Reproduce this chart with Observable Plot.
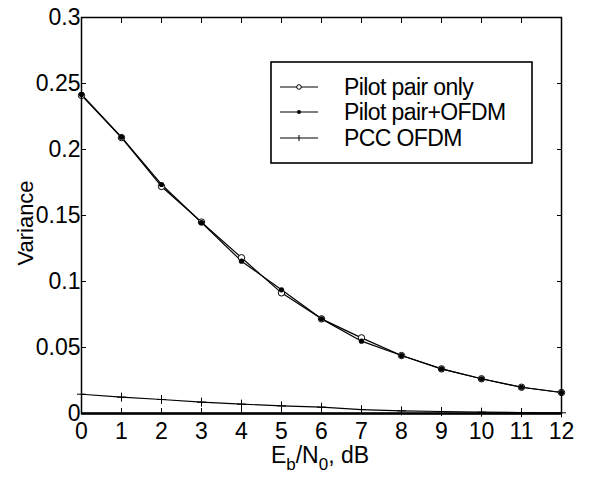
<!DOCTYPE html>
<html><head><meta charset="utf-8">
<script src="https://cdn.jsdelivr.net/npm/d3@7"></script>
<script src="https://cdn.jsdelivr.net/npm/@observablehq/plot@0.6"></script>
<style>
body{margin:0;background:#fff;}
svg{font-family:"Liberation Sans",Arial,Helvetica,sans-serif;}
</style>
</head><body><div id="chart"></div>
<script>
const snr = [0,1,2,3,4,5,6,7,8,9,10,11,12];
const pilotOnly = [0.241,0.209,0.172,0.145,0.118,0.0914,0.0717,0.0573,0.0439,0.0338,0.0263,0.0199,0.0159];
const pilotOfdm = [0.2417,0.2093,0.1735,0.1447,0.1154,0.0937,0.0717,0.0548,0.0439,0.0338,0.0263,0.0199,0.0159];
const pccOfdm   = [0.0146,0.0124,0.0106,0.0086,0.0071,0.0058,0.0048,0.0030,0.0020,0.0015,0.0010,0.0007,0.0005];
const seriesNames = ["Pilot pair only","Pilot pair+OFDM","PCC OFDM"];
const xTicks = [0,1,2,3,4,5,6,7,8,9,10,11,12];
const yTicks = [0,0.05,0.1,0.15,0.2,0.25,0.3];
const yLabel = "Variance";

const seriesValues = [pilotOnly, pilotOfdm, pccOfdm];
const rows = seriesNames.flatMap((s, i) => snr.map((x, j) => ({series: s, x, y: seriesValues[i][j]})));
const byName = n => rows.filter(d => d.series === n);

const fs = 23;
const chart = Plot.plot({
  width: 590, height: 477,
  marginLeft: 81, marginRight: 29, marginTop: 17, marginBottom: 64,
  style: {fontSize: fs + "px", fontFamily: '"Liberation Sans",Arial,sans-serif', color: "black", background: "white"},
  x: {domain: [0, 12]},
  y: {domain: [0, 0.3]},
  marks: [
    Plot.axisX(xTicks, {anchor: "bottom", tickSize: -5, tickPadding: 14, label: null, fontSize: fs, tickFormat: d => `${d}`}),
    Plot.axisX(xTicks, {anchor: "top", tickSize: -5, label: null, tickFormat: () => ""}),
    Plot.axisY(yTicks, {anchor: "left", tickSize: -5, tickPadding: 6, label: null, fontSize: fs, tickFormat: d => `${d}`}),
    Plot.axisY(yTicks, {anchor: "right", tickSize: -5, label: null, tickFormat: () => ""}),
    Plot.line(rows, {x: "x", y: "y", z: "series", stroke: "black", strokeWidth: 1.2}),
    Plot.dot(byName(seriesNames[0]), {x: "x", y: "y", r: 3.2, stroke: "black", fill: "white", strokeWidth: 1}),
    Plot.dot(byName(seriesNames[1]), {x: "x", y: "y", r: 2.6, fill: "black", stroke: "none"}),
    Plot.dot(byName(seriesNames[2]), {x: "x", y: "y", r: 3, symbol: "plus", stroke: "black", strokeWidth: 1}),
    Plot.frame({stroke: "black", strokeWidth: 1.5}),
    Plot.ruleY([0], {stroke: "black", strokeWidth: 2.4})
  ]
});
document.getElementById("chart").append(chart);

const svg = d3.select(chart);
// x label with subscripts
const xl = svg.append("text").attr("x", 320).attr("y", 463).attr("text-anchor", "middle")
  .attr("font-size", fs).attr("fill", "black");
xl.append("tspan").text("E");
xl.append("tspan").attr("dy", 7).attr("font-size", 17).text("b");
xl.append("tspan").attr("dy", -7).text("/N");
xl.append("tspan").attr("dy", 7).attr("font-size", 17).text("0");
xl.append("tspan").attr("dy", -7).text(", dB");
// y label
svg.append("text").attr("transform", "translate(33,223) rotate(-90)").attr("text-anchor", "middle")
  .attr("font-size", 22).attr("fill", "black").text(yLabel);
// legend
const lg = svg.append("g");
lg.append("rect").attr("x", 271).attr("y", 62).attr("width", 261).attr("height", 101)
  .attr("fill", "white").attr("stroke", "black").attr("stroke-width", 1.6);
const rowY = [87, 112, 138];
seriesNames.forEach((name, i) => {
  const y = rowY[i];
  lg.append("line").attr("x1", 280).attr("x2", 318).attr("y1", y).attr("y2", y).attr("stroke", "black").attr("stroke-width", 1.2);
  if (i === 0) lg.append("circle").attr("cx", 299).attr("cy", y).attr("r", 2.3).attr("fill", "white").attr("stroke", "black");
  if (i === 1) lg.append("circle").attr("cx", 299).attr("cy", y).attr("r", 2).attr("fill", "black");
  if (i === 2) lg.append("line").attr("x1", 299).attr("x2", 299).attr("y1", y - 3).attr("y2", y + 3).attr("stroke", "black");
  lg.append("text").attr("x", 344).attr("y", y).attr("dy", "0.36em").attr("text-anchor", "start").attr("font-size", fs)
    .attr("letter-spacing", "-0.6").attr("fill", "black").text(name);
});
</script>
</body></html>
